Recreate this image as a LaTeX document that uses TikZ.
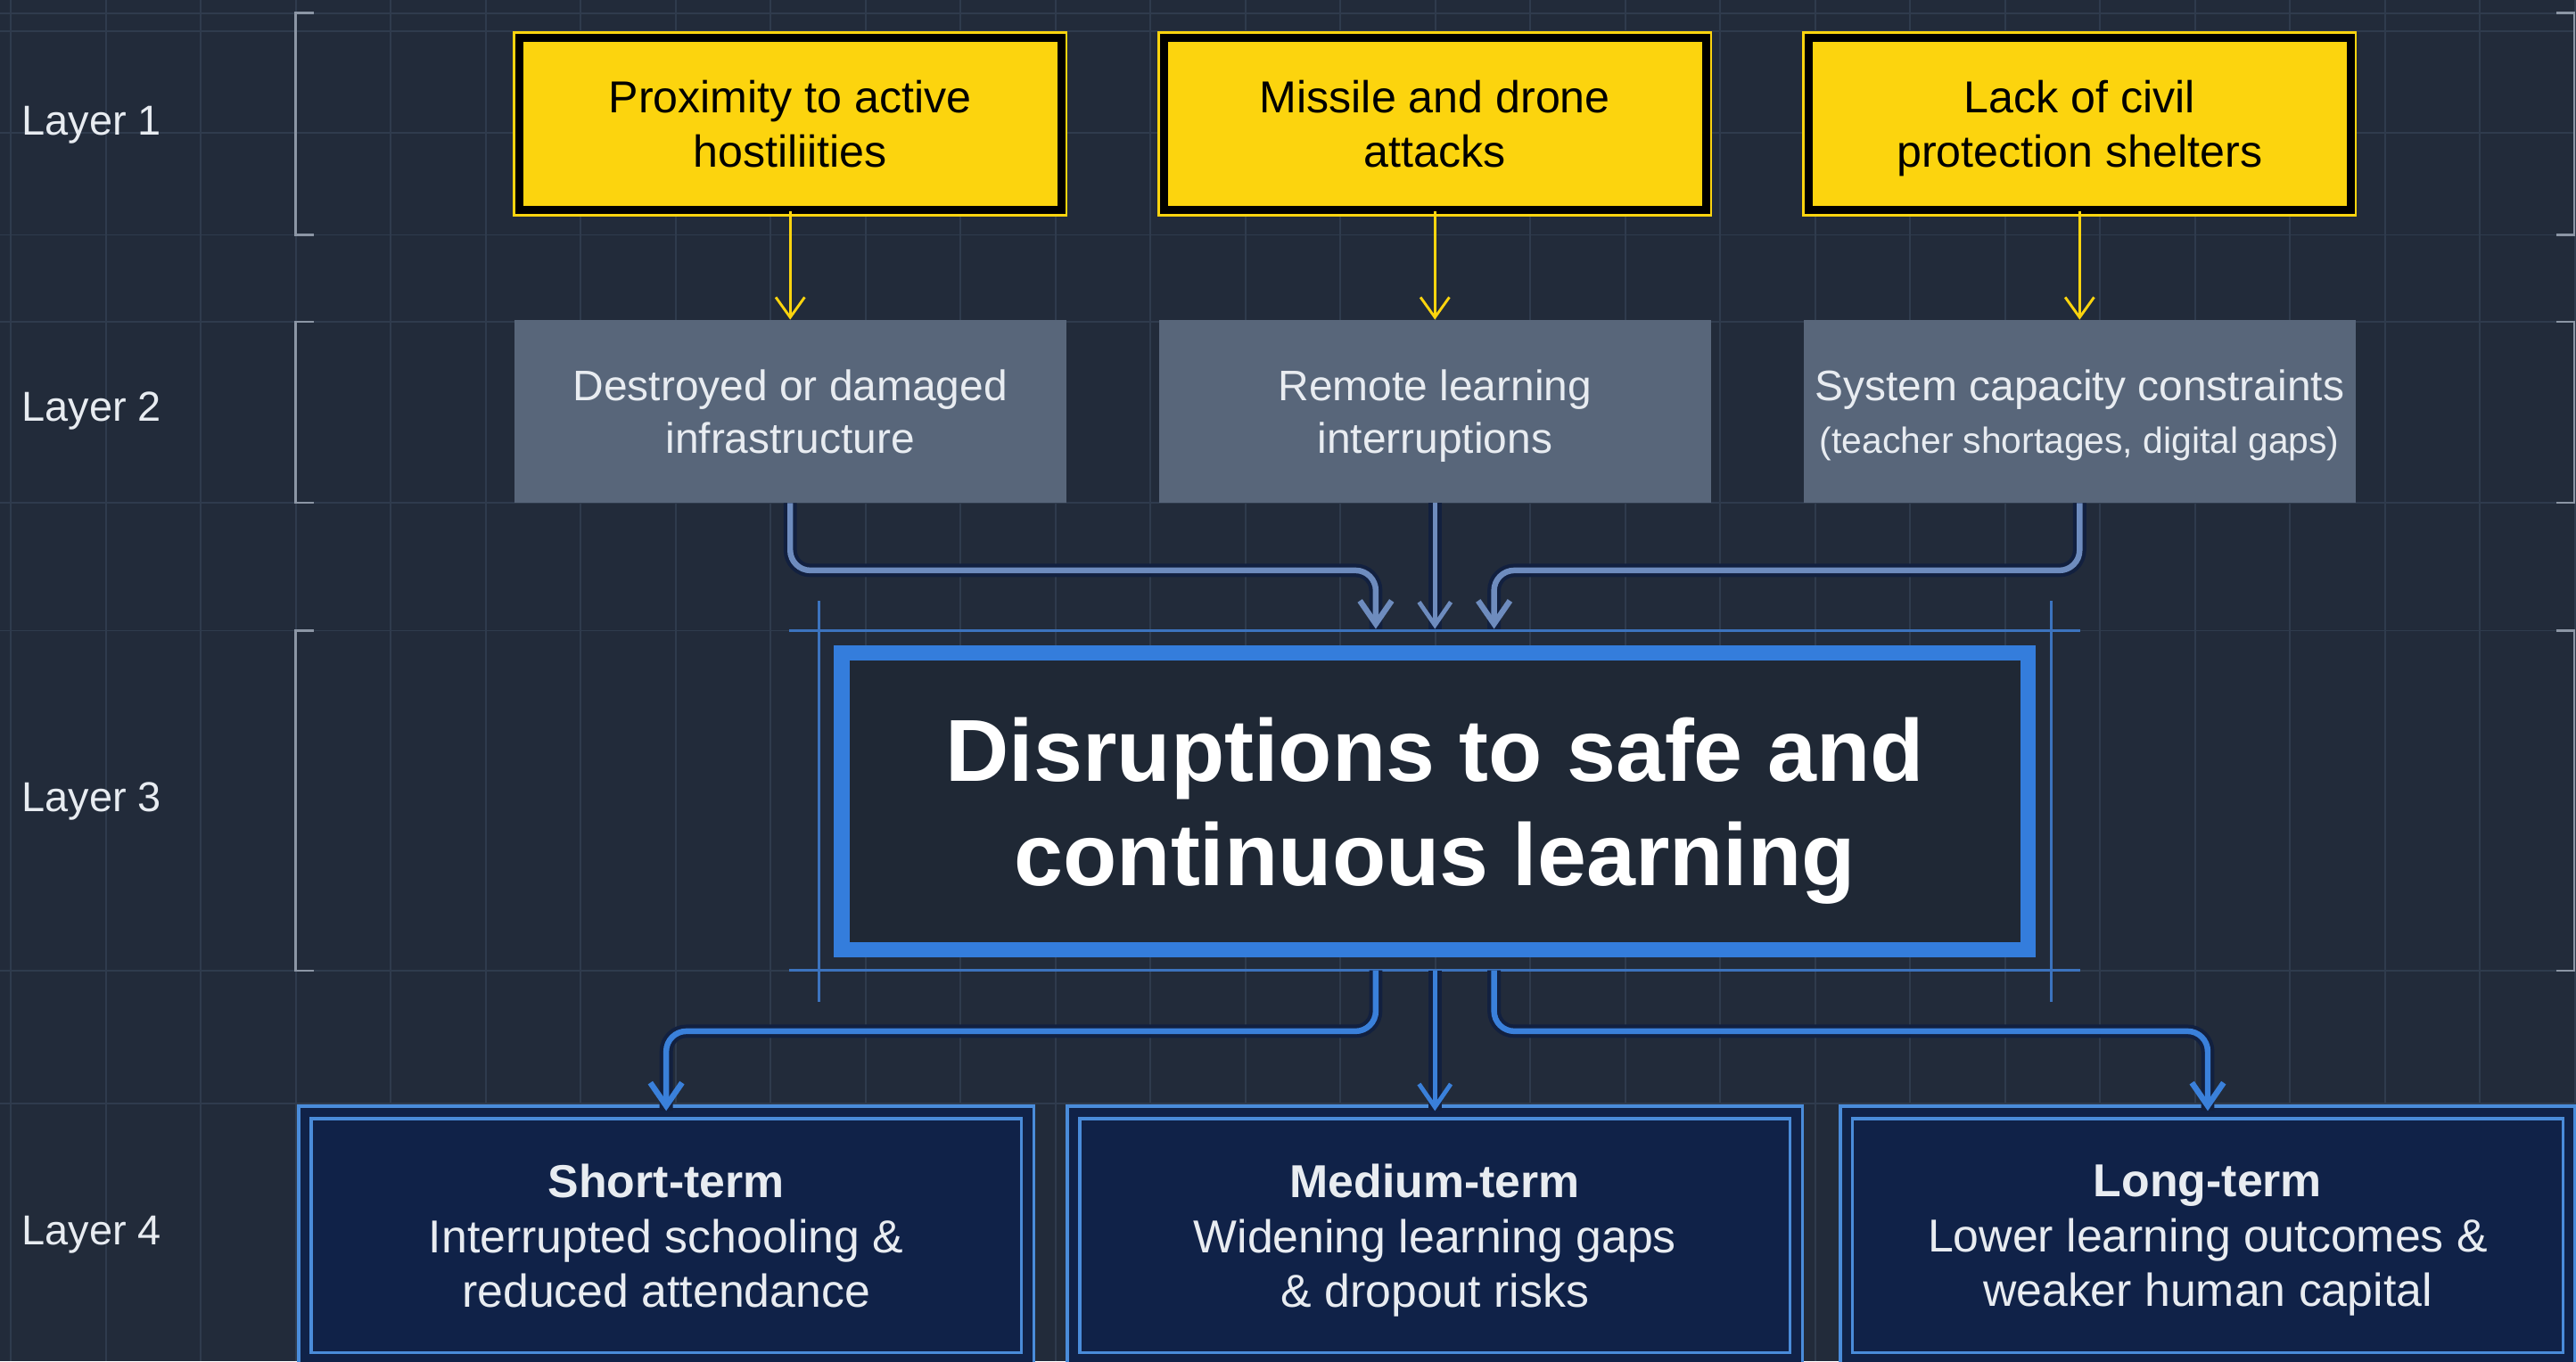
\documentclass[tikz,border=0pt]{standalone}
\usepackage{fontspec}
\setmainfont{Liberation Sans}
\usetikzlibrary{positioning, arrows.meta, calc}

\definecolor{bgdark}{HTML}{222B3A}
\definecolor{gridgray}{HTML}{2F3B4D}
\definecolor{bracketgray}{HTML}{8C96A5}
\definecolor{causeyellow}{HTML}{FCD40E}
\definecolor{effectgray}{HTML}{58667A}
\definecolor{effecttext}{HTML}{E8ECF1}
\definecolor{coreblue}{HTML}{347DDC}
\definecolor{coreinner}{HTML}{1F2835}
\definecolor{frameblue}{HTML}{3C73BE}
\definecolor{linksteel}{HTML}{6E8CBE}
\definecolor{navyedge}{HTML}{12203F}
\definecolor{flowblue}{HTML}{3A80DA}
\definecolor{outcomefill}{HTML}{102248}
\definecolor{outcomeline}{HTML}{4A8CDA}

\tikzset{
    cause/.style={draw=causeyellow, double=black, line width=0.8pt, double distance=2.8pt,
        fill=causeyellow, minimum width=6.6cm, minimum height=2.1cm, align=center,
        text depth=0pt, text=black, font=\fontsize{15.5}{18.8}\selectfont},
    effect/.style={fill=effectgray, minimum width=6.72cm, minimum height=2.22cm, align=center,
        text depth=0pt, text=effecttext, font=\fontsize{14.8}{18.2}\selectfont},
    core/.style={draw=coreblue, line width=5.4pt, fill=coreinner, minimum width=14.45cm,
        minimum height=3.61cm, align=center, text depth=0pt,
        text=white, font=\fontsize{30.5}{36}\selectfont\bfseries},
    outcome/.style={draw=outcomeline, double=outcomefill, line width=1.1pt,
        double distance=3.2pt, fill=outcomefill, minimum width=8.8cm, minimum height=3cm,
        align=center, text depth=0pt, text=effecttext, font=\fontsize{16}{19}\selectfont},
    layer/.style={anchor=west, inner sep=0pt, text=effecttext, font=\fontsize{14.5}{17}\selectfont},
    gridline/.style={draw=gridgray, line width=0.6pt},
    bracket/.style={draw=bracketgray, line width=0.8pt},
    frameline/.style={draw=frameblue, line width=0.9pt},
    cause arrow/.style={draw=causeyellow, line width=0.9pt,
        -{Straight Barb[length=7pt, width=10pt]}},
    link/.style={draw=linksteel, line width=2pt, rounded corners=7pt,
        -{Straight Barb[length=8pt, width=11pt]},
        preaction={draw=navyedge, line width=4.6pt, -}},
    flow/.style={link, draw=flowblue}
}

\begin{document}
\begin{tikzpicture}[x=0.02cm, y=-0.02cm, on grid, node distance=7.85cm]
    % background and grid
    \fill[bgdark] (0,0) rectangle (1568,829);
    \useasboundingbox (0,0) rectangle (1568,829);
    \foreach \k in {0,...,27}
        \draw[gridline] ({6.6+57.8*\k},0) -- ++(0,829);
    \foreach \h in {8,19,81,143,196,306,384,591,672}
        \draw[gridline] (0,\h) -- (1568,\h);
    \foreach \a/\b in {8/143, 196/306, 384/591} {
        \draw[bracket] (191,\a) -- (180,\a) -- (180,\b) -- (191,\b);
        \draw[bracket] (1556,\a) -- (1567,\a) -- (1567,\b) -- (1556,\b);
    }

    % layer labels
    \node[layer] (l1) at (13,76) {Layer 1};
    \node[layer] (l2) at (13,250) {Layer 2};
    \node[layer] (l3) at (13,488) {Layer 3};
    \node[layer] (l4) at (13,752) {Layer 4};

    % layer 1 and 2
    \node[cause] (y1) at (481,75.5) {Proximity to active\\hostiliities};
    \node[cause] (y2) [right=of y1] {Missile and drone\\attacks};
    \node[cause] (y3) [right=of y2] {Lack of civil\\protection shelters};
    \node[effect] (g1) [below=3.5cm of y1] {Destroyed or damaged\\infrastructure};
    \node[effect] (g2) [below=3.5cm of y2] {Remote learning\\interruptions};
    \node[effect] (g3) [below=3.5cm of y3] {System capacity constraints\\
        {\fontsize{12.6}{16}\selectfont(teacher shortages, digital gaps)}};

    % layer 3
    \node[core] (disr) [below=4.75cm of g2] {Disruptions to safe and\\continuous learning};
    \draw[frameline] ($(disr.north west)+(-27,-9)$) -- ($(disr.north east)+(27,-9)$);
    \draw[frameline] ($(disr.south west)+(-27,8)$) -- ($(disr.south east)+(27,8)$);
    \draw[frameline] ($(disr.north west)+(-9,-27)$) -- ($(disr.south west)+(-9,27)$);
    \draw[frameline] ($(disr.north east)+(9,-27)$) -- ($(disr.south east)+(9,27)$);

    % layer 4
    \node[outcome] (med) [below=5.29cm of disr] {\textbf{Medium-term}\\Widening learning gaps\\\& dropout risks};
    \node[outcome] (short) [left=9.36cm of med] {\textbf{Short-term}\\Interrupted schooling \&\\reduced attendance};
    \node[outcome] (long) [right=9.41cm of med] {\textbf{Long-term}\\Lower learning outcomes \&\\weaker human capital};

    \path[cause arrow]
        (y1) edge (g1)
        (y2) edge (g2)
        (y3) edge (g3);

    \draw[link] (g1.south) -- ++(0,41) -| ($(disr.north)+(-36,-10)$);
    \draw[link, line width=1.5pt] (g2.south) -- ($(g2.south |- disr.north)+(0,-10)$);
    \draw[link] (g3.south) -- ++(0,41) -| ($(disr.north)+(36,-10)$);

    \draw[flow] ($(disr.south)+(-36,8)$) -- ++(0,37) -| (short.north);
    \draw[flow, line width=1.5pt] ($(med.north |- disr.south)+(0,8)$) -- (med.north);
    \draw[flow] ($(disr.south)+(36,8)$) -- ++(0,37) -| (long.north);
\end{tikzpicture}
\end{document}
